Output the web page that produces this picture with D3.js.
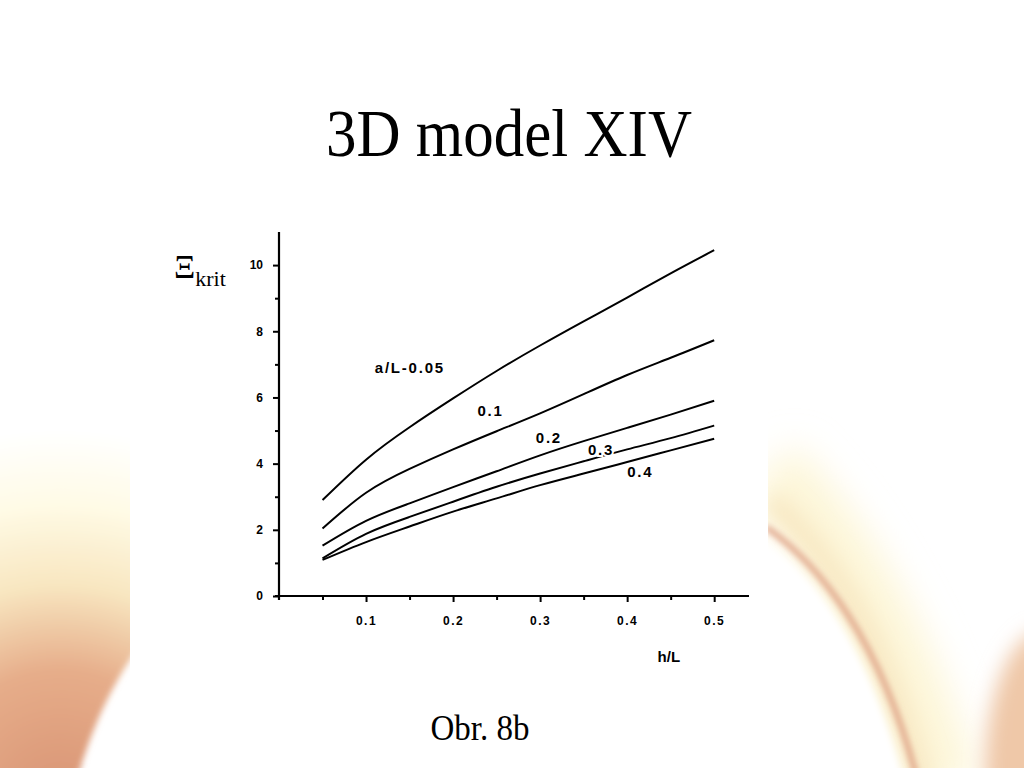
<!DOCTYPE html>
<html>
<head>
<meta charset="utf-8">
<script src="https://cdn.jsdelivr.net/npm/d3@7"></script>
<style>
  html, body { margin: 0; padding: 0; background: #fff; }
  svg { display: block; }
</style>
</head>
<body>
<svg id="chart" width="1024" height="768"></svg>
<script>
// ---- data ----
const hL = [0.05, 0.10, 0.15, 0.20, 0.25, 0.30, 0.35, 0.40, 0.45, 0.50];
const seriesNames = ["a/L-0.05", "0.1", "0.2", "0.3", "0.4"];
const aL005 = [2.90, 4.12, 5.10, 5.97, 6.80, 7.57, 8.30, 9.02, 9.75, 10.45];
const aL01  = [2.04, 3.12, 3.84, 4.43, 4.98, 5.52, 6.10, 6.68, 7.20, 7.73];
const aL02  = [1.52, 2.27, 2.80, 3.29, 3.77, 4.25, 4.68, 5.08, 5.48, 5.90];
const aL03  = [1.14, 1.88, 2.39, 2.85, 3.30, 3.70, 4.07, 4.43, 4.77, 5.15];
const aL04  = [1.09, 1.63, 2.10, 2.55, 2.95, 3.35, 3.70, 4.05, 4.40, 4.75];
const labelX = [0.110, 0.228, 0.295, 0.355, 0.400];
const labelY = [6.74, 5.44, 4.62, 4.26, 3.60];
const yMajor = [0, 2, 4, 6, 8, 10];
const yMinor = [1, 3, 5, 7, 9];
const xMajor = [0.1, 0.2, 0.3, 0.4, 0.5];
const xMinor = [0.05, 0.15, 0.25, 0.35, 0.45];
const title = "3D model XIV";
const caption = "Obr. 8b";
const xTitle = "h/L";

const svg = d3.select("#chart");
const defs = svg.append("defs");

// ---- slide background decoration ----
function addBlur(id, sd) {
  const f = defs.append("filter").attr("id", id).attr("x", "-50%").attr("y", "-50%").attr("width", "200%").attr("height", "200%");
  f.append("feGaussianBlur").attr("stdDeviation", sd);
}
addBlur("blur", 10);
addBlur("blur2", 3);
addBlur("blur3", 18);

const gl = defs.append("radialGradient").attr("id", "gLeft")
  .attr("cx", 60).attr("cy", 800).attr("r", 370).attr("gradientUnits", "userSpaceOnUse");
gl.append("stop").attr("offset", "0").attr("stop-color", "#d99474");
gl.append("stop").attr("offset", "0.35").attr("stop-color", "#e6ad8a");
gl.append("stop").attr("offset", "0.58").attr("stop-color", "#f8e6c0");
gl.append("stop").attr("offset", "0.80").attr("stop-color", "#fffbe6");
gl.append("stop").attr("offset", "1").attr("stop-color", "#ffffff");

const bg = svg.append("g");
bg.append("rect").attr("width", 1024).attr("height", 768).attr("fill", "#fff");
// left
bg.append("path")
  .attr("d", "M-20,420 L140,420 L140,645 C112,685 92,725 74,790 L-20,790 Z")
  .attr("fill", "url(#gLeft)").attr("filter", "url(#blur2)");
// right: cream band along edge
bg.append("path")
  .attr("d", "M770,470 C840,540 900,640 945,790")
  .attr("fill", "none").attr("stroke", "#fdf6d8").attr("stroke-width", 70).attr("filter", "url(#blur3)");
bg.append("path")
  .attr("d", "M770,500 C830,555 885,640 925,790")
  .attr("fill", "none").attr("stroke", "#f8e8c2").attr("stroke-width", 22).attr("filter", "url(#blur)");
// right edge line
bg.append("path")
  .attr("d", "M766,527 C820,565 880,640 916,775")
  .attr("fill", "none").attr("stroke", "#dd9c80").attr("stroke-width", 5).attr("filter", "url(#blur2)");
// white under the edge
bg.append("path")
  .attr("d", "M760,540 C815,575 870,650 905,790 L760,790 Z")
  .attr("fill", "#fff").attr("filter", "url(#blur2)");
// far right peach
bg.append("ellipse").attr("cx", 1045).attr("cy", 770).attr("rx", 60).attr("ry", 140)
  .attr("fill", "#efc8a8").attr("filter", "url(#blur)");
// white image panel
bg.append("rect").attr("x", 130).attr("y", 200).attr("width", 638).attr("height", 568).attr("fill", "#fff");

// ---- title & caption ----
svg.append("text").attr("x", 509).attr("y", 0)
  .attr("transform", "translate(0,156) scale(1,1.12)")
  .attr("text-anchor", "middle")
  .attr("font-family", "'Liberation Serif', 'Times New Roman', serif")
  .attr("font-size", 61).attr("fill", "#000").text(title);

svg.append("text").attr("x", 480).attr("y", 0)
  .attr("transform", "translate(0,740) scale(1,1.08)")
  .attr("text-anchor", "middle")
  .attr("font-family", "'Liberation Serif', 'Times New Roman', serif")
  .attr("font-size", 33).attr("fill", "#000").text(caption);

// ---- chart ----
const x = d3.scaleLinear().domain([0, 0.54]).range([279, 749]);
const y = d3.scaleLinear().domain([0, 11]).range([596, 232]);

const axFont = "'Liberation Sans', Arial, sans-serif";

// y axis
const gy = svg.append("g").attr("transform", `translate(${x(0)},0)`);
gy.call(d3.axisLeft(y).tickValues(yMajor).tickSize(6).tickSizeOuter(0).tickPadding(10).tickFormat(d3.format("d")));
gy.append("g").call(d3.axisLeft(y).tickValues(yMinor).tickSize(4).tickSizeOuter(0).tickFormat(""))
  .select(".domain").remove();
gy.selectAll(".domain").attr("stroke", "#000").attr("stroke-width", 2.2)
  .attr("d", `M0,${y(11)}V${y(0) + 4}`);
gy.selectAll(".tick line").attr("stroke", "#000").attr("stroke-width", 2);
gy.selectAll(".tick text").attr("font-family", axFont).attr("font-weight", "bold")
  .attr("font-size", 12).attr("fill", "#000");

// x axis
const gx = svg.append("g").attr("transform", `translate(0,${y(0)})`);
gx.call(d3.axisBottom(x).tickValues(xMajor).tickSize(6).tickSizeOuter(0).tickPadding(14).tickFormat(d3.format(".1f")));
gx.append("g").call(d3.axisBottom(x).tickValues(xMinor).tickSize(4).tickSizeOuter(0).tickFormat(""))
  .select(".domain").remove();
gx.selectAll(".domain").attr("stroke", "#000").attr("stroke-width", 2.2)
  .attr("d", `M${x(0) - 4},0H${x(0.54)}`);
gx.selectAll(".tick line").attr("stroke", "#000").attr("stroke-width", 2);
gx.selectAll(".tick text").attr("font-family", axFont).attr("font-weight", "bold")
  .attr("font-size", 12).attr("letter-spacing", 1.5).attr("fill", "#000");

// axis titles
svg.append("text").attr("x", x(0.435)).attr("y", 662)
  .attr("font-family", axFont).attr("font-weight", "bold").attr("font-size", 15)
  .attr("fill", "#000").text(xTitle);

const yt = svg.append("text").attr("x", 174).attr("y", 278)
  .attr("font-family", "'Liberation Serif', 'Times New Roman', serif").attr("fill", "#000");
yt.append("tspan").attr("font-size", 33).text("Ξ");
yt.append("tspan").attr("font-size", 22).attr("dy", 8).text("krit");

// curves
const allSeries = [aL005, aL01, aL02, aL03, aL04];
const line = d3.line()
  .x((d, i) => x(hL[i]))
  .y(d => y(d))
  .curve(d3.curveNatural);

svg.append("g").selectAll("path").data(allSeries).join("path")
  .attr("d", d => line(d))
  .attr("fill", "none").attr("stroke", "#000").attr("stroke-width", 2);

// curve labels (with white halo like the gaps in the scan)
svg.append("g").selectAll("text").data(seriesNames).join("text")
  .attr("x", (d, i) => x(labelX[i]))
  .attr("y", (d, i) => y(labelY[i]))
  .attr("font-family", axFont).attr("font-weight", "bold").attr("font-size", 15)
  .attr("letter-spacing", 1.8)
  .attr("stroke", "#fff").attr("stroke-width", 4).attr("paint-order", "stroke")
  .attr("fill", "#000").text(d => d);
</script>
</body>
</html>
